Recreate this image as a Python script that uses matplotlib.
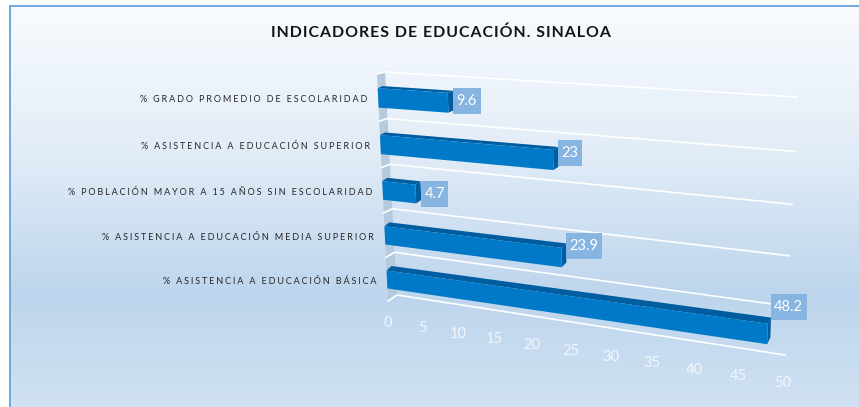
# coding=UTF-8
import numpy as np
import matplotlib
matplotlib.use("Agg")
import matplotlib.pyplot as plt
from matplotlib.colors import LinearSegmentedColormap
from matplotlib.patches import Polygon, Rectangle

title = "INDICADORES DE EDUCACIÓN. SINALOA"
categories = ["% ASISTENCIA A EDUCACIÓN BÁSICA",
              "% ASISTENCIA A EDUCACIÓN MEDIA SUPERIOR",
              "% POBLACIÓN MAYOR A 15 AÑOS SIN ESCOLARIDAD",
              "% ASISTENCIA A EDUCACIÓN SUPERIOR",
              "% GRADO PROMEDIO DE ESCOLARIDAD"]
values = [48.2, 23.9, 4.7, 23, 9.6]
value_labels = ["48.2", "23.9", "4.7", "23", "9.6"]
ticks = [0, 5, 10, 15, 20, 25, 30, 35, 40, 45, 50]

plt.rcParams['font.family'] = ['Lato', 'DejaVu Sans']
HAIR = "\u200a"


def plane(corners):
    # homography from (value, row) to image pixels, corners are
    # (0,0), (50,0), (0,5), (50,5)
    src = [(0, 0), (50, 0), (0, 5), (50, 5)]
    a, b = [], []
    for (u, v), (x, y) in zip(src, corners):
        a.append([u, v, 1, 0, 0, 0, -u * x, -v * x])
        a.append([0, 0, 0, u, v, 1, -u * y, -v * y])
        b += [x, y]
    h = np.append(np.linalg.solve(np.array(a, float), np.array(b, float)), 1).reshape(3, 3)

    def project(u, v):
        p = h @ np.array([u, v, 1.0])
        return p[0] / p[2], p[1] / p[2]
    return project


# depth planes of the fake 3d box
front = plane([(388, 301), (783, 361), (377, 74), (793, 99)])
bar_back = plane([(393, 296), (786, 354), (382, 72), (797, 97)])
wall = plane([(397, 295), (785, 355), (385, 72), (797, 97)])

fig = plt.figure(figsize=(8.59, 4.07), dpi=100)
ax = fig.add_axes([0, 0, 1, 1])
ax.axis('off')

# background gradient
cmap = LinearSegmentedColormap.from_list("bg", [(0, "#f8fbff"), (0.35, "#e3edf7"),
                                                (0.72, "#bdd5ed"), (1, "#d0e2f3")])
ax.imshow(np.linspace(0, 1, 256).reshape(-1, 1), cmap=cmap, aspect='auto',
          extent=(10, 859, 407, 6), zorder=0)
ax.set_xlim(0, 859)
ax.set_ylim(407, 0)
ax.plot([10, 10, 859], [407, 6, 6], color="#6fa8dc", lw=1.4, zorder=1, solid_joinstyle='miter')

# side wall and grid lines
ax.add_patch(Polygon([front(0, 0), wall(0, 0), wall(0, 5), front(0, 5)],
                     facecolor="#b5cadd", edgecolor='none', zorder=2))
for r in range(6):
    p0, p1, p2 = front(0, r), wall(0, r), wall(50, r)
    ax.plot([p0[0], p1[0], p2[0]], [p0[1], p1[1], p2[1]], color="white", lw=1.2, zorder=3)

# value axis labels
for t in ticks:
    x, y = front(t, 0)
    ax.text(x, y + 22, str(t), color="#f2f7fc", fontsize=10.5, ha='center', va='center', zorder=4)

# bars
BAR_LOW, BAR_HIGH = 0.29, 0.70
label_shift = [-27, -11, 0, -7, -1.5]
renderer = fig.canvas.get_renderer()
for i, (name, val, lab) in enumerate(zip(categories, values, value_labels)):
    lo, hi = i + BAR_LOW, i + BAR_HIGH
    ax.add_patch(Polygon([front(0, hi), bar_back(0, hi), bar_back(val, hi), front(val, hi)],
                         facecolor="#005d9f", edgecolor='none', zorder=5))
    ax.add_patch(Polygon([front(val, lo), bar_back(val, lo), bar_back(val, hi), front(val, hi)],
                         facecolor="#005d9f", edgecolor='none', zorder=5))
    ax.add_patch(Polygon([front(0, lo), front(val, lo), front(val, hi), front(0, hi)],
                         facecolor="#0079c9", edgecolor='none', zorder=6))
    # value box: fixed height, as wide as the number
    ex = bar_back(val, i + 0.5)[0]
    ey = front(val, i + 0.5)[1] + label_shift[i]
    txt = ax.text(ex + 3.5, ey, lab, color="white", fontsize=10.5, ha='left', va='center', zorder=8)
    w = txt.get_window_extent(renderer).width
    ax.add_patch(Rectangle((ex, ey - 13), w + 7, 26, facecolor="#87b5e2", edgecolor='none', zorder=7))
    lx, ly = front(0, i + 0.5)
    ax.text(lx - 10.5, ly + 2, (HAIR * 3).join(name), color="#262626", fontsize=6.5,
            ha='right', va='center', zorder=7)

ax.text(440.5, 33, HAIR.join(title), color="#141414", fontsize=11.4, fontweight='bold',
        ha='center', va='center', zorder=7)

fig.savefig("out.png", dpi=100)
